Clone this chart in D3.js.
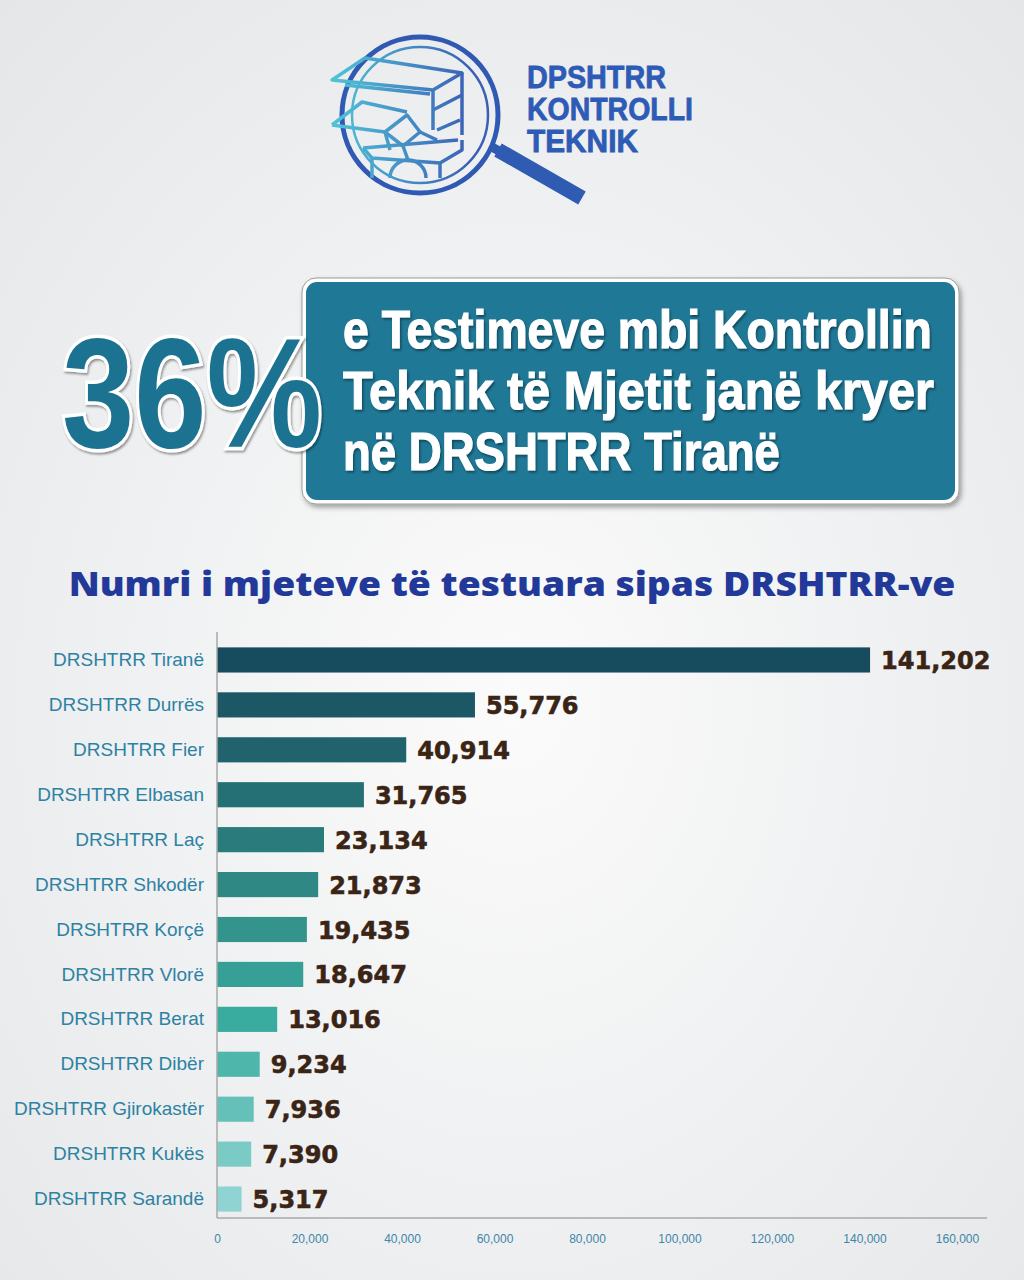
<!DOCTYPE html>
<html>
<head>
<meta charset="utf-8">
<script src="https://cdn.jsdelivr.net/npm/d3@7"></script>
<style>
  html, body { margin: 0; padding: 0; background: #eef0f1; }
  svg { display: block; }
</style>
</head>
<body>
<script>
// data
var categories = ["DRSHTRR Tiranë", "DRSHTRR Durrës", "DRSHTRR Fier", "DRSHTRR Elbasan",
  "DRSHTRR Laç", "DRSHTRR Shkodër", "DRSHTRR Korçë", "DRSHTRR Vlorë", "DRSHTRR Berat",
  "DRSHTRR Dibër", "DRSHTRR Gjirokastër", "DRSHTRR Kukës", "DRSHTRR Sarandë"];
var values = [141202, 55776, 40914, 31765, 23134, 21873, 19435, 18647, 13016, 9234, 7936, 7390, 5317];
var tickValues = [0, 20000, 40000, 60000, 80000, 100000, 120000, 140000, 160000];
var chartTitle = "Numri i mjeteve të testuara sipas DRSHTRR-ve";
var headlineNumber = "36%";
var headlineLines = ["e Testimeve mbi Kontrollin", "Teknik të Mjetit janë kryer", "në DRSHTRR Tiranë"];
var logoLines = ["DPSHTRR", "KONTROLLI", "TEKNIK"];

var W = 1024, H = 1280;
var narrow = "'Liberation Sans Narrow', 'Arial Narrow', 'Liberation Sans', Arial, sans-serif";

var svg = d3.select('body').append('svg')
  .attr('width', W)
  .attr('height', H);

// squeeze a text horizontally so it takes the given width, anchored at (x, y)
function fitWidth(sel, x, y, width) {
  sel.each(function() {
    var w = this.getComputedTextLength();
    var k = w > 0 ? width / w : 1;
    d3.select(this).attr('transform', 'translate(' + x + ',' + y + ') scale(' + k + ',1)');
  });
}

var defs = svg.append('defs');

var bg = defs.append('radialGradient').attr('id', 'bg')
  .attr('cx', '50%').attr('cy', '55%').attr('r', '75%');
bg.append('stop').attr('offset', '0%').attr('stop-color', '#fbfbfb');
bg.append('stop').attr('offset', '100%').attr('stop-color', '#e4e6e8');

var logoGrad = defs.append('linearGradient').attr('id', 'logoGrad')
  .attr('gradientUnits', 'userSpaceOnUse')
  .attr('x1', 330).attr('y1', 0).attr('x2', 470).attr('y2', 0);
logoGrad.append('stop').attr('offset', '0%').attr('stop-color', '#4fc6d8');
logoGrad.append('stop').attr('offset', '100%').attr('stop-color', '#3b5fb6');

var shadow = defs.append('filter').attr('id', 'shadow')
  .attr('x', '-10%').attr('y', '-10%').attr('width', '120%').attr('height', '130%');
shadow.append('feDropShadow').attr('dx', 2).attr('dy', 3).attr('stdDeviation', 2.5)
  .attr('flood-color', '#000').attr('flood-opacity', 0.35);

var textShadow = defs.append('filter').attr('id', 'textShadow')
  .attr('x', '-10%').attr('y', '-20%').attr('width', '120%').attr('height', '150%');
textShadow.append('feDropShadow').attr('dx', 1.5).attr('dy', 2).attr('stdDeviation', 1.2)
  .attr('flood-color', '#000').attr('flood-opacity', 0.4);

svg.append('rect').attr('width', W).attr('height', H).attr('fill', 'url(#bg)');

// ---- logo ----
var logo = svg.append('g');
logo.append('line')
  .attr('x1', 498).attr('y1', 150).attr('x2', 582).attr('y2', 198)
  .attr('stroke', '#2f5cb2').attr('stroke-width', 15);
logo.append('line')
  .attr('x1', 490).attr('y1', 146).attr('x2', 512).attr('y2', 158)
  .attr('stroke', '#2f5cb2').attr('stroke-width', 9);
logo.append('circle').attr('cx', 420).attr('cy', 115).attr('r', 78)
  .attr('fill', 'none').attr('stroke', '#3059b3').attr('stroke-width', 5);
logo.append('circle').attr('cx', 420).attr('cy', 115).attr('r', 68)
  .attr('fill', 'none').attr('stroke', 'url(#logoGrad)').attr('stroke-width', 2.5);

var logoPaths = [
  "M332,80 L365,58 L462,73 L433,90 Z",
  "M345,85 L430,94",
  "M433,90 L433,130 M462,73 L462,135",
  "M433,110 L462,95",
  "M437,130 L460,120",
  "M332,125 L362,102 L407,112",
  "M332,125 L385,132",
  "M385,132 L407,115 L420,132 L403,146 Z",
  "M385,132 L390,150 M403,146 L408,160 M420,132 L437,140",
  "M363,148 L458,140 M363,148 L372,158 L440,163 L462,150 L462,140",
  "M440,163 L440,178 M372,158 L372,178",
  "M390,178 A18,18 0 0,1 426,178"
];
logo.selectAll('path.logo')
  .data(logoPaths)
  .enter()
  .append('path')
  .attr('class', 'logo')
  .attr('d', function(d) { return d; })
  .attr('fill', 'none')
  .attr('stroke', 'url(#logoGrad)')
  .attr('stroke-width', 3.5)
  .attr('stroke-linejoin', 'round');

var logoWidths = [139, 166, 111];
logo.selectAll('text.logoText')
  .data(logoLines)
  .enter()
  .append('text')
  .attr('class', 'logoText')
  .attr('font-family', narrow)
  .attr('font-weight', 'bold')
  .attr('font-size', 31)
  .attr('fill', '#2d5bb5')
  .attr('stroke', '#2d5bb5')
  .attr('stroke-width', 0.8)
  .text(function(d) { return d; })
  .each(function(d, i) { fitWidth(d3.select(this), 527, 88 + i * 32, logoWidths[i]); });

// ---- headline ----
svg.append('rect')
  .attr('x', 302).attr('y', 278).attr('width', 657).attr('height', 226).attr('rx', 14)
  .attr('fill', '#ffffff').attr('stroke', '#9a9a9a').attr('stroke-width', 1)
  .attr('filter', 'url(#shadow)');
svg.append('rect')
  .attr('x', 306).attr('y', 282).attr('width', 649).attr('height', 218).attr('rx', 11)
  .attr('fill', '#1f7896');

svg.append('text')
  .attr('font-family', narrow)
  .attr('font-weight', 'bold')
  .attr('font-size', 156)
  .attr('fill', '#1d7391')
  .attr('stroke', '#ffffff')
  .attr('stroke-width', 7)
  .attr('paint-order', 'stroke')
  .attr('filter', 'url(#textShadow)')
  .text(headlineNumber)
  .call(fitWidth, 62, 447, 260);

var lineWidths = [589, 591, 437];
svg.selectAll('text.headline')
  .data(headlineLines)
  .enter()
  .append('text')
  .attr('class', 'headline')
  .attr('font-family', narrow)
  .attr('font-weight', 'bold')
  .attr('font-size', 54)
  .attr('fill', '#ffffff')
  .attr('stroke', '#ffffff')
  .attr('stroke-width', 1.2)
  .attr('filter', 'url(#textShadow)')
  .text(function(d) { return d; })
  .each(function(d, i) { fitWidth(d3.select(this), 343, 348 + i * 61, lineWidths[i]); });

// ---- chart ----
svg.append('text')
  .attr('text-anchor', 'middle')
  .attr('font-family', "'Open Sans', 'DejaVu Sans', sans-serif")
  .attr('font-weight', 800)
  .attr('font-size', 33)
  .attr('fill', '#22399a')
  .text(chartTitle)
  .call(fitWidth, 512, 596, 887);

var x = d3.scaleLinear().domain([0, 160000]).range([217, 957]);
var y = d3.scaleBand().domain(categories).range([637.5, 1221.5])
  .paddingInner(0.44).paddingOuter(0.22);

var color = d3.scaleLinear()
  .domain([0, 5, 8, 12])
  .range(['#174b5e', '#2f8883', '#3aac9f', '#8fd4d2']);

svg.selectAll('rect.bar')
  .data(values)
  .enter()
  .append('rect')
  .attr('class', 'bar')
  .attr('x', x(0))
  .attr('y', function(d, i) { return y(categories[i]); })
  .attr('width', function(d) { return x(d) - x(0); })
  .attr('height', y.bandwidth())
  .attr('fill', function(d, i) { return color(i); });

svg.selectAll('text.value')
  .data(values)
  .enter()
  .append('text')
  .attr('class', 'value')
  .attr('x', function(d) { return x(d) + 11; })
  .attr('y', function(d, i) { return y(categories[i]) + y.bandwidth() / 2 + 9; })
  .attr('font-family', "'DejaVu Sans', sans-serif")
  .attr('font-weight', 'bold')
  .attr('font-size', 24)
  .attr('fill', '#3a2415')
  .attr('stroke', '#3a2415')
  .attr('stroke-width', 0.6)
  .text(function(d) { return d3.format(',')(d); });

var yAxis = svg.append('g')
  .attr('transform', 'translate(' + x(0) + ',0)')
  .call(d3.axisLeft(y).tickSize(0).tickPadding(13));
yAxis.select('.domain').remove();
yAxis.selectAll('text')
  .attr('font-family', "'Liberation Sans', Arial, sans-serif")
  .attr('font-size', 19)
  .attr('fill', '#2d82a3');

var xAxis = svg.append('g')
  .attr('transform', 'translate(0,1218)')
  .call(d3.axisBottom(x).tickValues(tickValues).tickSize(0).tickPadding(16)
    .tickFormat(d3.format(',')));
xAxis.select('.domain').remove();
xAxis.selectAll('text')
  .attr('font-family', narrow)
  .attr('font-size', 12)
  .attr('fill', '#3d86a6');

svg.append('line')
  .attr('x1', x(0)).attr('y1', 632).attr('x2', x(0)).attr('y2', 1218)
  .attr('stroke', '#a8a8a8').attr('stroke-width', 1.5);
svg.append('line')
  .attr('x1', x(0)).attr('y1', 1218).attr('x2', x(160000) + 30).attr('y2', 1218)
  .attr('stroke', '#a8a8a8').attr('stroke-width', 1.5);
</script>
</body>
</html>
